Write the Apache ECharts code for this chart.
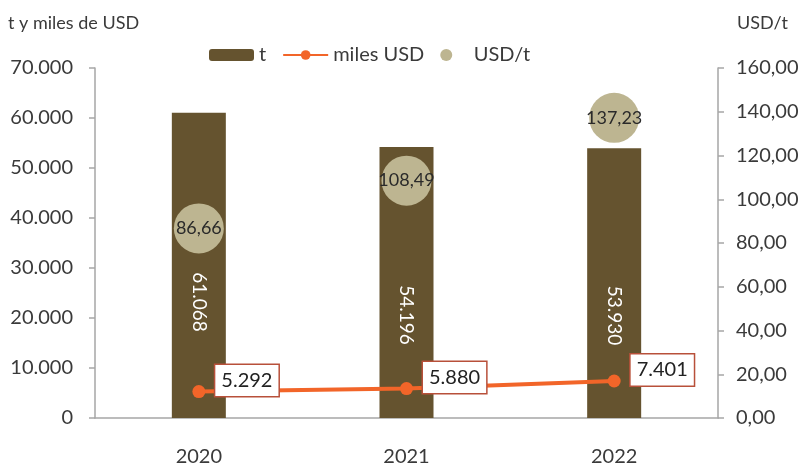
<!DOCTYPE html>
<html>
<head>
	<meta charset="utf-8">
	<title>t y miles de USD</title>
	<script src="https://cdn.jsdelivr.net/npm/echarts@6/dist/echarts.min.js"></script>
	<style>
		html, body { margin: 0; padding: 0; background: #fff; }
		#main { width: 803px; height: 463px; }
	</style>
</head>
<body>
	<div id="main"></div>
	<script type="text/javascript">
		var years = ['2020', '2021', '2022'];
		var toneladas = [61068, 54196, 53930];
		var milesUSD = [5292, 5880, 7401];
		var usdPorT = [86.66, 108.49, 137.23];

		var fontName = 'Lato';
		var textColor = '#3a3a3a';
		var axisColor = '#a6a6a6';

		// 61068 -> 61.068 ; 86.66 -> 86,66
		function miles(v) {
			return String(Math.round(v)).replace(/\B(?=(\d{3})+(?!\d))/g, '.');
		}
		function decimales(v) {
			var p = v.toFixed(2).split('.');
			return miles(+p[0]) + ',' + p[1];
		}

		var myChart = echarts.init(document.getElementById('main'));

		myChart.setOption({
			animation: false,
			textStyle: { fontFamily: fontName },
			grid: { left: 95, right: 85, top: 68, bottom: 45, outerBoundsMode: 'none', containLabel: false },
			legend: {
				left: 204,
				top: 40,
				itemWidth: 45,
				itemHeight: 12,
				itemGap: 16,
				textStyle: { fontSize: 20, color: textColor, fontFamily: fontName },
				data: ['t', 'miles USD', 'USD/t']
			},
			xAxis: {
				type: 'category',
				data: years,
				axisLine: { lineStyle: { color: axisColor, width: 1.5 } },
				axisTick: { length: 6, lineStyle: { color: axisColor, width: 1.5 } },
				axisLabel: { fontSize: 20, color: textColor, margin: 29 }
			},
			yAxis: [{
				type: 'value',
				name: 't y miles de USD',
				nameLocation: 'end',
				nameGap: 0,
				nameTextStyle: { fontSize: 18, color: textColor, align: 'left', padding: [0, 0, 36, -87] },
				min: 0,
				max: 70000,
				interval: 10000,
				axisLine: { show: true, lineStyle: { color: axisColor, width: 1.5 } },
				axisTick: { show: true, length: 6, lineStyle: { color: axisColor, width: 1.5 } },
				splitLine: { show: false },
				axisLabel: { fontSize: 20, color: textColor, margin: 22, formatter: miles }
			}, {
				type: 'value',
				name: 'USD/t',
				nameLocation: 'end',
				nameGap: 0,
				nameTextStyle: { fontSize: 18, color: textColor, align: 'left', padding: [0, 0, 36, 19] },
				min: 0,
				max: 160,
				interval: 20,
				axisLine: { show: true, lineStyle: { color: axisColor, width: 1.5 } },
				axisTick: { show: true, length: 6, lineStyle: { color: axisColor, width: 1.5 } },
				splitLine: { show: false },
				axisLabel: { fontSize: 20, color: textColor, margin: 18, formatter: decimales }
			}],
			series: [{
				name: 't',
				type: 'bar',
				data: toneladas,
				barWidth: 54,
				itemStyle: { color: '#65532f' },
				label: {
					show: true,
					position: ['50%', '62%'],
					rotate: -90,
					align: 'center',
					verticalAlign: 'middle',
					color: '#ffffff',
					fontSize: 19,
					formatter: function (p) { return miles(p.value); }
				}
			}, {
				name: 'miles USD',
				type: 'line',
				data: milesUSD,
				symbol: 'circle',
				symbolSize: 13,
				lineStyle: { color: '#f26529', width: 4 },
				itemStyle: { color: '#f26529' },
				z: 4,
				label: {
					show: true,
					position: 'right',
					distance: 10,
					offset: [0, -11],
					color: '#222',
					fontSize: 20,
					backgroundColor: '#fff',
					borderColor: '#b8503a',
					borderWidth: 1.5,
					padding: [6, 6, 5, 6],
					formatter: function (p) { return miles(p.value); }
				}
			}, {
				name: 'USD/t',
				type: 'scatter',
				yAxisIndex: 1,
				data: usdPorT,
				symbolSize: 50,
				itemStyle: { color: '#bdb591', opacity: 1 },
				z: 5,
				label: {
					show: true,
					position: 'inside',
					color: '#2a2a2a',
					fontSize: 18,
					formatter: function (p) { return decimales(p.value); }
				}
			}]
		});
	</script>
</body>
</html>
